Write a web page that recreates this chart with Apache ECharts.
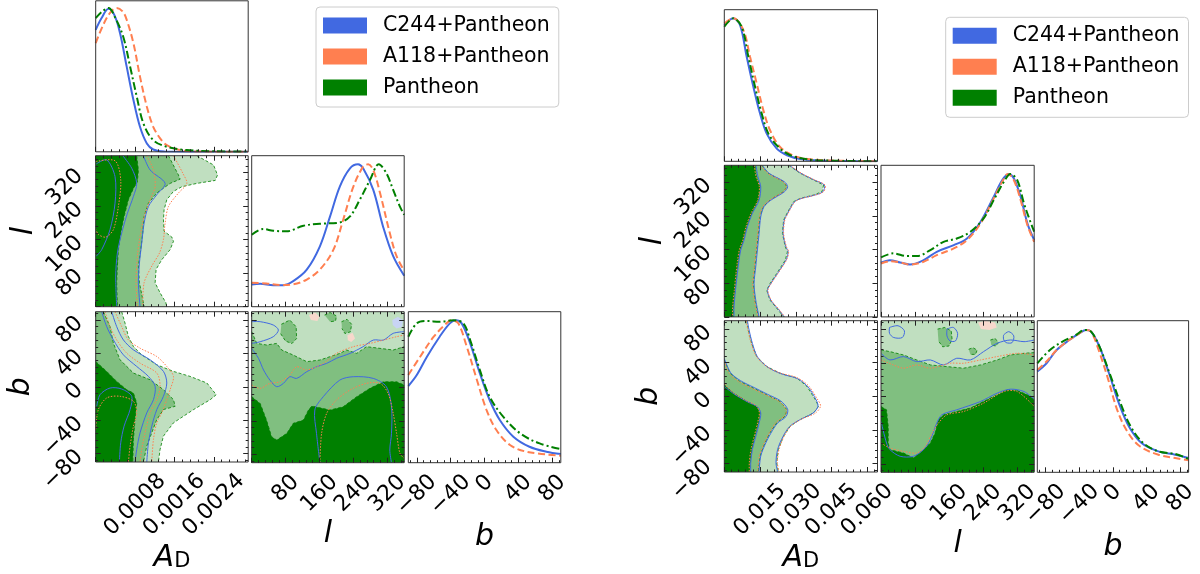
<!DOCTYPE html>
<html>
<head>
<meta charset="utf-8">
<script src="https://cdn.jsdelivr.net/npm/echarts@6/dist/echarts.min.js"></script>
<style>
html, body { margin: 0; padding: 0; background: #fff; }
#chart { width: 1200px; height: 574px; }
</style>
</head>
<body>
<div id="chart"></div>
<script>
// ---- tick values / labels ----
var adTicksL = [0.0008, 0.0016, 0.0024];
var adLabelsL = ['0.0008', '0.0016', '0.0024'];
var adTicksR = [0.015, 0.030, 0.045, 0.060];
var adLabelsR = ['0.015', '0.030', '0.045', '0.060'];
var lTicks = [80, 160, 240, 320];
var lLabels = ['80', '160', '240', '320'];
var bTicks = [-80, -40, 0, 40, 80];
var bLabels = ['\u221280', '\u221240', '0', '40', '80'];
var seriesNames = ['C244+Pantheon', 'A118+Pantheon', 'Pantheon'];

// ---- 1D marginals, left set ----
var L_ad_c244 = [[0,0.848],[0.00012,0.93],[0.00026,0.994],[0.00038,0.95],[0.000495,0.825],[0.00063,0.592],[0.000767,0.36],[0.0009,0.174],[0.00104,0.058],[0.00117,0.016],[0.0014,0.002],[0.0031,0]];
var L_ad_a118 = [[0,0.755],[0.00015,0.88],[0.0003,0.97],[0.000427,1.0],[0.00055,0.975],[0.00063,0.918],[0.000767,0.755],[0.0009,0.523],[0.00104,0.314],[0.00117,0.174],[0.00131,0.093],[0.001445,0.046],[0.00172,0.012],[0.0021,0.002],[0.0031,0]];
var L_ad_pan = [[0,0.929],[0.00013,0.975],[0.00026,1.0],[0.0004,0.93],[0.00056,0.80],[0.0007,0.592],[0.000835,0.383],[0.00097,0.197],[0.00117,0.081],[0.001445,0.035],[0.00185,0.012],[0.0024,0.004],[0.0031,0.002]];
var L_l_c244 = [[0,0.155],[20,0.159],[51,0.15],[75,0.15],[98,0.178],[130,0.258],[161,0.42],[185,0.628],[208,0.835],[232,0.962],[251,0.99],[263,0.962],[287,0.812],[310,0.558],[334,0.351],[360,0.215]];
var L_l_a118 = [[0,0.166],[35,0.162],[67,0.15],[98,0.155],[130,0.189],[161,0.258],[193,0.397],[216,0.605],[240,0.835],[263,0.974],[275,0.99],[287,0.95],[303,0.79],[326,0.512],[342,0.351],[360,0.25]];
var L_l_pan = [[0,0.5],[27,0.54],[51,0.528],[82,0.524],[122,0.563],[161,0.577],[208,0.586],[232,0.628],[255,0.743],[279,0.88],[300,0.99],[318,0.928],[334,0.812],[350,0.696],[360,0.639]];
var L_b_c244 = [[-90,0.533],[-80,0.61],[-68,0.737],[-53,0.876],[-41,0.969],[-34,0.99],[-27,0.969],[-17,0.83],[-5.5,0.621],[6,0.436],[18,0.297],[34,0.181],[53,0.111],[73,0.076],[90,0.06]];
var L_b_a118 = [[-90,0.61],[-76,0.737],[-60,0.876],[-47,0.957],[-39,0.99],[-31,0.969],[-21,0.807],[-9,0.575],[2.4,0.366],[14,0.227],[30,0.123],[50,0.076],[90,0.049]];
var L_b_pan = [[-90,0.876],[-80,0.969],[-68,0.985],[-53,0.98],[-37,0.99],[-25,0.969],[-17,0.853],[-5.5,0.644],[6,0.459],[22,0.32],[42,0.204],[65,0.134],[90,0.095]];

// ---- 1D marginals, right set ----
var R_ad_c244 = [[0,0.944],[0.0038,0.99],[0.0066,0.944],[0.0094,0.724],[0.0122,0.516],[0.015,0.331],[0.0178,0.192],[0.022,0.088],[0.0263,0.042],[0.0319,0.016],[0.0403,0.005],[0.0643,0]];
var R_ad_a118 = [[0,0.955],[0.0038,0.99],[0.008,0.909],[0.0108,0.724],[0.0136,0.539],[0.0164,0.354],[0.0192,0.215],[0.0234,0.099],[0.0291,0.039],[0.0361,0.014],[0.0459,0.005],[0.0643,0]];
var R_ad_pan = [[0,0.932],[0.0038,0.99],[0.0073,0.932],[0.0101,0.724],[0.0129,0.516],[0.0157,0.331],[0.0185,0.192],[0.0227,0.099],[0.0277,0.042],[0.0347,0.014],[0.0431,0.005],[0.0643,0]];
var R_l_c244 = [[0,0.375],[21,0.393],[45,0.377],[68,0.363],[100,0.393],[131,0.451],[171,0.497],[202,0.543],[234,0.659],[265,0.833],[285,0.948],[300,0.99],[312,0.96],[328,0.833],[344,0.648],[360,0.532]];
var R_l_a118 = [[0,0.37],[21,0.386],[45,0.377],[68,0.363],[100,0.382],[131,0.428],[171,0.474],[202,0.532],[234,0.648],[265,0.821],[285,0.937],[298,0.99],[312,0.948],[328,0.81],[344,0.636],[360,0.52]];
var R_l_pan = [[0,0.412],[29,0.44],[61,0.421],[84,0.421],[116,0.463],[147,0.52],[178,0.543],[210,0.59],[241,0.682],[265,0.81],[289,0.937],[304,0.99],[320,0.948],[336,0.786],[351,0.659],[360,0.59]];
var R_b_c244 = [[-90,0.698],[-79,0.755],[-67,0.847],[-52,0.916],[-40,0.962],[-32,0.986],[-26,0.974],[-16,0.87],[-4.7,0.686],[7,0.479],[19,0.318],[34,0.203],[54,0.145],[74,0.122],[90,0.099]];
var R_b_a118 = [[-90,0.709],[-79,0.767],[-67,0.847],[-52,0.916],[-40,0.962],[-33,0.986],[-26,0.974],[-17,0.847],[-5.5,0.64],[5,0.433],[17,0.283],[32,0.18],[54,0.122],[74,0.099],[90,0.083]];
var R_b_pan = [[-90,0.755],[-75,0.847],[-60,0.905],[-44,0.951],[-34,0.986],[-26,0.974],[-16,0.87],[-4,0.686],[9,0.479],[21,0.318],[36,0.203],[54,0.145],[74,0.127],[90,0.092]];

// ---- 2D contours, left set (Pantheon filled boundaries, others as lines) ----
var L_adl_dark = [[0.000834,360],[0.000868,326],[0.000848,298],[0.000767,282],[0.000665,255],[0.000577,215],[0.000509,176],[0.000461,136],[0.000441,97],[0.000427,57],[0.000441,0]];
var L_adl_mid = [[0.001479,360],[0.001682,314],[0.001716,304],[0.001513,294],[0.001242,271],[0.001072,247],[0.000984,215],[0.000957,176],[0.000916,136],[0.000868,97],[0.000889,57],[0.000957,17],[0.000984,0]];
var L_adl_light = [[0.002056,360],[0.002395,338],[0.002476,314],[0.002429,301],[0.002056,294],[0.00175,286],[0.001581,275],[0.001445,255],[0.00139,231],[0.001377,207],[0.00139,180],[0.001547,166],[0.001581,156],[0.001513,136],[0.001343,112],[0.001228,89],[0.001208,57],[0.001309,33],[0.001425,10],[0.001445,0]];
var L_adl_c244 = [
  [[0.000007,340],[0.000224,350],[0.000393,310],[0.000393,247],[0.000292,184],[0.000122,136],[0.000007,120]],
  [[0.00055,360],[0.000733,330],[0.000834,294],[0.000767,263],[0.000645,223],[0.000529,176],[0.000441,128],[0.000407,73],[0.000427,0]],
  [[0.00097,360],[0.001106,326],[0.001411,294],[0.001242,267],[0.001072,239],[0.000984,199],[0.000936,152],[0.000889,104],[0.000868,57],[0.000902,0]]
];
var L_adl_a118 = [
  [[0.000007,346],[0.000393,348],[0.000509,302],[0.000461,239],[0.00036,184],[0.00021,166],[0.000054,172],[0.000007,184]],
  [[0.001038,360],[0.001174,326],[0.001208,286],[0.001106,255],[0.000984,215],[0.000902,168],[0.000848,120],[0.000821,57],[0.000848,0]],
  [[0.001581,360],[0.001771,318],[0.001852,294],[0.001682,271],[0.001479,239],[0.001411,199],[0.001377,160],[0.001296,128],[0.00114,97],[0.000984,57],[0.000957,0]]
];
var L_adb_dark = [[0,30.4],[0.000224,18.5],[0.000427,6.5],[0.000631,-3.4],[0.000767,-7.4],[0.000834,-19.3],[0.0008,-39.2],[0.000767,-63],[0.000753,-90]];
var L_adb_mid = [[0.000156,90],[0.000292,72.1],[0.00036,52.2],[0.000495,32.4],[0.000767,16.5],[0.001106,8.5],[0.001377,-3.4],[0.001581,-15.3],[0.001615,-23.3],[0.001377,-27.2],[0.001242,-39.2],[0.00114,-55],[0.001038,-71],[0.00097,-90]];
var L_adb_light = [[0.000529,90],[0.000597,76.1],[0.000665,60.2],[0.000767,48.3],[0.000936,38.3],[0.001242,26.4],[0.001581,18.5],[0.00192,12.5],[0.00226,4.6],[0.00245,-9.4],[0.00233,-15.3],[0.00199,-27.2],[0.001581,-43.1],[0.001377,-59],[0.001309,-74.9],[0.001275,-90]];
var L_adb_c244 = [
  [[0.00002,-23.3],[0.000088,-9.4],[0.000292,-1.4],[0.000529,-2.6],[0.000733,-11.3],[0.000699,-27.2],[0.000577,-47.1],[0.000509,-67],[0.000482,-90]],
  [[0.000122,90],[0.000224,72.1],[0.00036,56.2],[0.000563,38.3],[0.000834,24.4],[0.001072,12.5],[0.001208,0.6],[0.001174,-15.3],[0.001038,-31.2],[0.000902,-55],[0.000834,-74.9],[0.0008,-90]],
  [[0.000326,90],[0.000427,72.1],[0.000563,56.2],[0.000767,44.3],[0.001106,32.4],[0.001377,18.5],[0.001445,4.6],[0.001377,-11.3],[0.001242,-27.2],[0.00114,-47.1],[0.001072,-67],[0.001038,-90]]
];
var L_adb_a118 = [
  [[0,-51.1],[0.000054,-27.2],[0.000224,-13.3],[0.000495,-11.3],[0.000767,-17.3],[0.000834,-31.2],[0.000767,-47.1],[0.000699,-71],[0.000665,-90]],
  [[0.00019,90],[0.000292,72.1],[0.000427,56.2],[0.000631,40.3],[0.000902,28.4],[0.001242,16.5],[0.001309,0.6],[0.001242,-15.3],[0.001106,-31.2],[0.001004,-55],[0.000936,-74.9],[0.000902,-90]],
  [[0.000393,90],[0.000529,72.1],[0.000665,56.2],[0.000902,46.3],[0.001242,36.3],[0.001445,24.4],[0.001581,12.5],[0.001513,-3.4],[0.001445,-15.3],[0.001343,-31.2],[0.001242,-43.1],[0.001174,-63],[0.00114,-90]]
];
var L_lb_mid = [[0,66.2],[12,52.2],[35,50.3],[59,52.2],[71,44.3],[98,38.3],[130,30.4],[161,32.4],[185,36.4],[208,40.3],[224,44.3],[248,40.3],[271,48.3],[303,46.3],[334,44.3],[360,48.3]];
var L_lb_dark = [[0,-11.3],[20,-19.3],[35,-39.2],[47,-59],[59,-63],[83,-55],[98,-43.1],[122,-39.2],[134,-27.2],[142,-22.5],[185,-27.2],[216,-23.3],[248,-11.3],[279,-1.4],[311,6.5],[342,6.5],[360,2.6]];
var L_lb_midPatches = [
  [[70,75],[90,80],[105,72],[106,58],[95,52],[80,55],[68,64]],
  [[172,86],[185,89],[200,85],[198,79],[185,78]],
  [[212,78],[225,81],[236,75],[233,66],[220,64],[213,70]]
];
var L_lb_pink = [[[135,86],[150,89],[160,84],[155,79],[140,80]], [[226,62],[238,65],[244,58],[235,54],[227,56]]];
var L_lb_blue = [[[332,80],[345,84],[357,80],[355,72],[342,70],[333,74]]];
var L_lb_c244 = [
  [[161,-90],[153,-55],[149,-27.2],[169,-11.3],[208,8.5],[240,12.5],[287,10.5],[318,0.6],[330,-23.3],[330,-55],[326,-74.9],[330,-90]],
  [[0,46.3],[16,34.4],[28,20.5],[43,8.5],[59,0.6],[75,4.6],[90,12.5],[106,10.5],[130,18.5],[153,24.4],[177,28.4],[200,34.4],[232,40.3],[263,48.3],[287,56.2],[311,56.2],[334,64.2],[360,66.2]],
  [[0,78.1],[20,78.1],[51,74.1],[63,68.1],[51,60.2],[20,54.2],[0,52.2]]
];
var L_lb_a118 = [
  [[161,-90],[165,-55],[177,-31.2],[200,-15.3],[232,-3.4],[271,4.6],[303,4.6],[322,-7.4],[334,-31.2],[342,-55],[350,-78.9],[360,-84.9]],
  [[0,2.6],[20,-1.4],[43,4.6],[67,6.5],[90,14.5],[106,24.4],[130,20.5],[169,28.4],[200,40.3],[240,48.3],[279,52.2],[311,56.2],[342,60.2],[360,62.2]]
];

// ---- 2D contours, right set ----
var R_adl_dark = [[0.0129,360],[0.0136,333],[0.015,309],[0.0143,277.5],[0.0115,245.8],[0.0094,214],[0.008,182.4],[0.0066,158.6],[0.0059,134.8],[0.0052,103],[0.0045,63.4],[0.0038,23.8],[0.0038,0]];
var R_adl_mid = [[0.0157,360],[0.0185,341],[0.0249,321],[0.0263,309],[0.0249,297.4],[0.0192,277.5],[0.0164,261.7],[0.015,238],[0.0143,198],[0.0136,158.6],[0.0129,119],[0.0122,79.3],[0.0129,39.7],[0.0143,0]];
var R_adl_light = [[0.027,360],[0.0319,341],[0.0375,325],[0.0417,313],[0.041,297.4],[0.0375,289.4],[0.0319,281.5],[0.0291,273.6],[0.0263,245.8],[0.0249,230],[0.0244,198],[0.0256,166.5],[0.0265,154.6],[0.0256,134.8],[0.022,103],[0.0192,79.3],[0.0178,63.4],[0.0192,39.7],[0.0227,15.9],[0.0249,0]];
var R_adl_c244 = [
  [[0.0133,360],[0.0141,333],[0.0153,309],[0.0146,277],[0.0118,246],[0.0097,214],[0.0083,182],[0.0069,159],[0.0062,135],[0.0055,103],[0.0047,63],[0.0041,24],[0.0041,0]],
  [[0.016,360],[0.0188,341],[0.0252,321],[0.0266,309],[0.0252,297],[0.0195,277],[0.0167,262],[0.0153,238],[0.0146,198],[0.0139,159],[0.0132,119],[0.0125,79],[0.0132,40],[0.0146,0]],
  [[0.0273,360],[0.0322,341],[0.0378,325],[0.042,313],[0.0413,297],[0.0378,289],[0.0322,281],[0.0294,273],[0.0266,246],[0.0252,230],[0.0247,198],[0.0259,166],[0.0268,155],[0.0259,135],[0.0223,103],[0.0195,79],[0.0181,63],[0.0195,40],[0.023,16],[0.0252,0]]
];
var R_adl_a118 = [
  [[0.0126,360],[0.0133,333],[0.0147,309],[0.014,277],[0.0112,246],[0.0091,214],[0.0077,182],[0.0063,159],[0.0056,135],[0.0049,103],[0.0042,63],[0.0035,24],[0.0035,0]],
  [[0.0154,360],[0.0182,341],[0.0246,321],[0.026,309],[0.0246,297],[0.0189,277],[0.0161,262],[0.0147,238],[0.014,198],[0.0133,159],[0.0126,119],[0.0119,79],[0.0126,40],[0.014,0]],
  [[0.0275,360],[0.0324,341],[0.038,325],[0.0423,313],[0.0416,297],[0.038,289],[0.0324,281],[0.0296,273],[0.0268,246],[0.0254,230],[0.0249,198],[0.0261,166],[0.027,155],[0.0261,135],[0.0225,103],[0.0197,79],[0.0183,63],[0.0197,40],[0.0232,16],[0.0254,0]]
];
var R_adb_dark = [[0,13.8],[0.0038,4],[0.0094,-5.9],[0.0136,-11.8],[0.015,-19.7],[0.0143,-31.6],[0.0129,-47.4],[0.0115,-63.1],[0.0108,-78.9],[0.0108,-90]];
var R_adb_mid = [[0,43.4],[0.0024,27.6],[0.0066,17.8],[0.0122,9.9],[0.0178,2],[0.0234,-5.9],[0.0263,-15.8],[0.0256,-23.7],[0.022,-31.6],[0.0192,-43.4],[0.0171,-55.2],[0.015,-71],[0.0143,-90]];
var R_adb_light = [[0.0094,90],[0.0101,79],[0.0115,63.2],[0.0136,47.4],[0.0178,35.5],[0.0234,27.6],[0.0305,21.7],[0.0347,11.9],[0.0382,-3.9],[0.0396,-11.8],[0.0375,-19.7],[0.0319,-27.6],[0.0277,-35.5],[0.0249,-47.4],[0.0227,-63.1],[0.022,-78.9],[0.0227,-90]];
var R_adb_c244 = [
  [[0,12],[0.004,3],[0.0097,-6.5],[0.0139,-12.5],[0.0153,-20],[0.0146,-32],[0.0132,-48],[0.0118,-63],[0.0111,-79],[0.0111,-90]],
  [[0,45],[0.0027,28],[0.0069,18.5],[0.0125,10.5],[0.0181,2.5],[0.0237,-5.5],[0.0266,-15.5],[0.0259,-24],[0.0223,-32],[0.0195,-44],[0.0174,-55.5],[0.0153,-71],[0.0146,-90]],
  [[0.0097,90],[0.0104,79],[0.0118,63],[0.0139,47],[0.0181,35],[0.0237,27],[0.0308,21],[0.0352,11],[0.0385,-4],[0.0393,-12],[0.0372,-20],[0.0316,-28],[0.0274,-36],[0.0246,-48],[0.0224,-63],[0.0217,-79],[0.0224,-90]]
];
var R_adb_a118 = [
  [[0,15],[0.0035,5],[0.0091,-5],[0.0133,-11],[0.0147,-19],[0.014,-31],[0.0126,-47],[0.0112,-63],[0.0105,-79],[0.0105,-90]],
  [[0,42],[0.0021,27],[0.0063,17],[0.0119,9],[0.0175,1.5],[0.0231,-6.5],[0.026,-16.5],[0.0253,-23],[0.0217,-31],[0.0189,-43],[0.0168,-55],[0.0147,-71],[0.014,-90]],
  [[0.0092,90],[0.0099,79],[0.0113,63],[0.0134,48],[0.0176,36],[0.0232,28],[0.0303,22.5],[0.0352,13],[0.039,-3],[0.0404,-11.5],[0.0382,-20],[0.0325,-27],[0.028,-35],[0.0252,-47],[0.023,-63],[0.0223,-79],[0.023,-90]]
];
var R_lb_mid = [[0,55.3],[21,53.3],[53,49.3],[84,43.4],[116,37.5],[155,35.5],[194,33.6],[234,37.5],[273,43.4],[304,49.3],[336,51.3],[360,52.1]];
var R_lb_dark = [[0,-11.8],[13,-15.8],[17,-35.5],[17,-55.2],[21,-63.1],[53,-67.1],[76,-73],[100,-63.1],[116,-55.2],[127,-43.4],[135,-27.6],[147,-21.7],[178,-17.8],[210,-13.8],[241,-5.9],[273,2],[296,7.9],[320,7.1],[344,2],[360,-3.9]];
var R_lb_midPatches = [
  [[133,80],[150,82],[165,78],[167,68],[160,60],[145,59],[135,66]],
  [[206,56],[216,58],[226,55],[222,50],[210,50]],
  [[257,67],[268,69],[276,64],[270,60],[259,61]]
];
var R_lb_pink = [[[228,88],[245,90],[268,88],[272,82],[255,79],[235,80]]];
var R_lb_c244 = [
  [[0,-29.6],[13,-55.2],[21,-63.1],[45,-71],[76,-71],[100,-63.1],[116,-51.3],[131,-31.6],[143,-21.7],[178,-15.8],[234,-5.9],[273,4],[304,8.7],[336,5.9],[360,-3.1]],
  [[0,51.3],[21,43.4],[53,47.4],[84,41.4],[116,43.4],[147,37.5],[178,45.4],[210,43.4],[241,53.3],[273,63.2],[304,67.1],[336,65.1],[360,67.1]],
  [[20,82],[40,84],[55,78],[50,70],[30,70],[20,75],[20,82]],
  [[155,80],[170,82],[180,75],[175,66],[162,66],[155,72],[155,80]],
  [[288,73],[300,77],[312,72],[308,64],[294,64],[288,68],[288,73]]
];
var R_lb_a118 = [
  [[0,-55.2],[21,-61.2],[53,-65.1],[84,-67.1],[104,-59.2],[120,-43.4],[135,-31.6],[155,-21.7],[194,-17.8],[241,-7.9],[289,5.9],[320,5.9],[360,-11.8]],
  [[0,43.4],[29,37.5],[53,33.6],[84,37.5],[116,33.6],[163,39.5],[194,39.5],[234,43.4],[273,47.4],[320,51.3],[360,49.3]]
];

// ---- drawing ----
var FONT = 'DejaVu Sans';
var TICK_FS = 22;
var cBlue = '#4169e1', cCoral = '#ff7f50', cGreen = '#008000';
var gLight = '#c0dfc0', gMid = '#80bf80', gDark = '#008000';

var grids = [], xAxes = [], yAxes = [], series = [];
var ctx = document.createElement('canvas').getContext('2d');
ctx.font = TICK_FS + 'px "' + FONT + '"';

function minors(min, max, step) {
  var out = [];
  for (var k = Math.ceil(min / step); k * step <= max + 1e-12; k++) {
    if (k % 5 !== 0) out.push(+(k * step).toPrecision(6));
  }
  return out;
}
function nearest(vals, v) {
  var best = 0;
  for (var i = 1; i < vals.length; i++) if (Math.abs(vals[i] - v) < Math.abs(vals[best] - v)) best = i;
  return best;
}
// rotated labels centred under the tick, like matplotlib
function bottomLabels(vals, texts) {
  var rich = {};
  texts.forEach(function (t, i) {
    var p = Math.round(ctx.measureText(t).width / 2);
    rich['t' + i] = { fontSize: TICK_FS, fontFamily: FONT, color: '#000', padding: [p, p, 0, 0] };
  });
  return {
    show: true, customValues: vals, rotate: 45, align: 'center', verticalAlign: 'middle', margin: 16,
    fontSize: TICK_FS, fontFamily: FONT, color: '#000',
    formatter: function (v) { var i = nearest(vals, v); return '{t' + i + '|' + texts[i] + '}'; },
    rich: rich
  };
}
function leftLabels(vals, texts) {
  return {
    show: true, customValues: vals, rotate: 45, margin: 16, fontSize: TICK_FS, fontFamily: FONT, color: '#000',
    formatter: function (v) { return texts[nearest(vals, v)]; }
  };
}
function axisName(txt, gap) {
  if (txt === 'AD') {
    return { name: '{a|A}{d|D}', nameLocation: 'middle', nameGap: gap,
      nameTextStyle: { rich: {
        a: { fontSize: 30, fontStyle: 'italic', fontFamily: FONT, color: '#000', padding: [0, 0, 8, 0] },
        d: { fontSize: 21, fontFamily: FONT, color: '#000' } } } };
  }
  return { name: txt, nameLocation: 'middle', nameGap: gap,
    nameTextStyle: { fontSize: 30, fontStyle: 'italic', fontFamily: FONT, color: '#000' } };
}
function axis(gi, pos, s, ticks, len, label, nm) {
  var a = {
    type: 'value', gridIndex: gi, position: pos, min: s.min, max: s.max, z: 10, silent: true,
    axisLine: { show: false, onZero: false }, splitLine: { show: false },
    axisTick: { show: true, inside: true, length: len, customValues: ticks, lineStyle: { color: '#222', width: 1 } },
    axisLabel: label || { show: false }
  };
  if (nm) Object.assign(a, nm);
  return a;
}
function scale(min, max, major, step) { return { min: min, max: max, major: major, minor: minors(min, max, step) }; }

function panel(left, top, w, h, xs, ys, xlab, ylab, xname, yname) {
  var gi = grids.length;
  grids.push({ left: left, top: top, width: w, height: h, show: true, borderColor: '#333', borderWidth: 1, z: 10, backgroundColor: 'rgba(0,0,0,0)' });
  var xi = xAxes.length;
  xAxes.push(axis(gi, 'bottom', xs, xs.major, 5, xlab, xname));
  xAxes.push(axis(gi, 'bottom', xs, xs.minor, 2.5));
  var yi = yAxes.length;
  if (ys) {
    xAxes.push(axis(gi, 'top', xs, xs.major, 5));
    xAxes.push(axis(gi, 'top', xs, xs.minor, 2.5));
    yAxes.push(axis(gi, 'left', ys, ys.major, 5, ylab, yname));
    yAxes.push(axis(gi, 'left', ys, ys.minor, 2.5));
    yAxes.push(axis(gi, 'right', ys, ys.major, 5));
    yAxes.push(axis(gi, 'right', ys, ys.minor, 2.5));
  } else {
    yAxes.push({ type: 'value', gridIndex: gi, min: 0, max: 1.05, show: false, axisLine: { onZero: false } });
  }
  return { xi: xi, yi: yi };
}

function curve(ax, name, data, color, type) {
  series.push({ type: 'line', name: name, xAxisIndex: ax.xi, yAxisIndex: ax.yi, data: data,
    smooth: 0.35, showSymbol: false, silent: true, z: 5, clip: true,
    itemStyle: { color: color }, lineStyle: { color: color, width: 2, type: type } });
}
function marginals(ax, c, a, p) {
  curve(ax, seriesNames[0], c, cBlue, 'solid');
  curve(ax, seriesNames[1], a, cCoral, [7, 3.5]);
  curve(ax, seriesNames[2], p, cGreen, [8, 3, 2, 3]);
}
// filled region: edge (contour) + closing corners of the panel
function region(ax, edge, close, color, z, outline) {
  var poly = edge.concat(close);
  series.push({ type: 'custom', xAxisIndex: ax.xi, yAxisIndex: ax.yi, clip: true, silent: true, z: z, data: poly,
    renderItem: function (params, api) {
      if (params.dataIndex !== 0) return;
      var pts = poly.map(function (d) { return api.coord(d); });
      var kids = [{ type: 'polygon', shape: { points: pts }, style: { fill: color } }];
      if (outline) kids.push({ type: 'polyline', shape: { points: pts.slice(0, edge.length) },
        style: { fill: 'none', stroke: gDark, lineWidth: 0.8, lineDash: [3, 2] } });
      return { type: 'group', children: kids };
    } });
}
function contour(ax, pts, color, dash) {
  series.push({ type: 'custom', xAxisIndex: ax.xi, yAxisIndex: ax.yi, clip: true, silent: true, z: 6, data: pts,
    renderItem: function (params, api) {
      if (params.dataIndex !== 0) return;
      return { type: 'polyline', shape: { points: pts.map(function (d) { return api.coord(d); }), smooth: 0.3 },
        style: { fill: 'none', stroke: color, lineWidth: 1, lineDash: dash } };
    } });
}

// ---- layout of the two corner plots ----
var adL = scale(0, 0.0031, [0, 0.0008, 0.0016, 0.0024], 0.00016);
var adR = scale(0, 0.0643, [0, 0.015, 0.030, 0.045, 0.060], 0.003);
var lS = scale(0, 360, [0, 80, 160, 240, 320], 16);
var bS = scale(-90, 90, bTicks, 8);

function corner(cols, rows, w, h, ad, adT, adLab, adGap, g) {
  var p = {};
  p.d0 = panel(cols[0], rows[0], w, h, ad, null);
  p.al = panel(cols[0], rows[1], w, h, ad, lS, null, leftLabels(lTicks, lLabels), null, axisName('l', g[0]));
  p.ab = panel(cols[0], rows[2], w, h, ad, bS, bottomLabels(adT, adLab), leftLabels(bTicks, bLabels), axisName('AD', adGap), axisName('b', g[1]));
  p.d1 = panel(cols[1], rows[1], w, h, lS, null);
  p.lb = panel(cols[1], rows[2], w, h, lS, bS, bottomLabels(lTicks, lLabels), null, axisName('l', g[2]));
  p.d2 = panel(cols[2], rows[2], w, h, bS, null, bottomLabels(bTicks, bLabels), null, axisName('b', g[3]));
  return p;
}
var PL = corner([95.7, 251.7, 408.3], [0.8, 155.7, 311.7], 152.5, 151, adL, adTicksL, adLabelsL, 81, [52, 57, 41, 42]);
var PR = corner([724.3, 881, 1037.3], [9.7, 165.3, 320.7], 153.2, 151.6, adR, adTicksR, adLabelsR, 71, [51, 56, 47, 47]);

function fillSet(ax, dark, mid, light, closeD, closeM, closeL) {
  region(ax, light, closeL, gLight, 2, true);
  region(ax, mid, closeM, gMid, 3, true);
  region(ax, dark, closeD, gDark, 4, true);
}
function lines(ax, c, a) {
  c.forEach(function (p) { contour(ax, p, cBlue, null); });
  a.forEach(function (p) { contour(ax, p, cCoral, [1.5, 1.5]); });
}

// left corner plot
marginals(PL.d0, L_ad_c244, L_ad_a118, L_ad_pan);
marginals(PL.d1, L_l_c244, L_l_a118, L_l_pan);
marginals(PL.d2, L_b_c244, L_b_a118, L_b_pan);
fillSet(PL.al, L_adl_dark, L_adl_mid, L_adl_light, [[0, 0], [0, 360]], [[0, 0], [0, 360]], [[0, 0], [0, 360]]);
lines(PL.al, L_adl_c244, L_adl_a118);
fillSet(PL.ab, L_adb_dark, L_adb_mid, L_adb_light, [[0, -90]], [[0, -90], [0, 90]], [[0, -90], [0, 90]]);
lines(PL.ab, L_adb_c244, L_adb_a118);
region(PL.lb, [], [[0, -90], [360, -90], [360, 90], [0, 90]], gLight, 2, false);
L_lb_pink.forEach(function (p) { region(PL.lb, p, [], '#f8d8cc', 2.5, false); });
L_lb_blue.forEach(function (p) { region(PL.lb, p, [], '#c8d4f4', 2.5, false); });
L_lb_midPatches.forEach(function (p) { region(PL.lb, p, [], gMid, 3, true); });
region(PL.lb, L_lb_mid, [[360, -90], [0, -90]], gMid, 3, true);
region(PL.lb, L_lb_dark, [[360, -90], [0, -90]], gDark, 4, true);
lines(PL.lb, L_lb_c244, L_lb_a118);

// right corner plot
marginals(PR.d0, R_ad_c244, R_ad_a118, R_ad_pan);
marginals(PR.d1, R_l_c244, R_l_a118, R_l_pan);
marginals(PR.d2, R_b_c244, R_b_a118, R_b_pan);
fillSet(PR.al, R_adl_dark, R_adl_mid, R_adl_light, [[0, 0], [0, 360]], [[0, 0], [0, 360]], [[0, 0], [0, 360]]);
lines(PR.al, R_adl_c244, R_adl_a118);
fillSet(PR.ab, R_adb_dark, R_adb_mid, R_adb_light, [[0, -90]], [[0, -90]], [[0, -90], [0, 90]]);
lines(PR.ab, R_adb_c244, R_adb_a118);
region(PR.lb, [], [[0, -90], [360, -90], [360, 90], [0, 90]], gLight, 2, false);
R_lb_pink.forEach(function (p) { region(PR.lb, p, [], '#f8d8cc', 2.5, false); });
R_lb_midPatches.forEach(function (p) { region(PR.lb, p, [], gMid, 3, true); });
region(PR.lb, R_lb_mid, [[360, -90], [0, -90]], gMid, 3, true);
region(PR.lb, R_lb_dark, [[360, -90], [0, -90]], gDark, 4, true);
lines(PR.lb, R_lb_c244, R_lb_a118);

function legendAt(left, top) {
  return {
    orient: 'vertical', left: left, top: top, selectedMode: false,
    itemWidth: 44, itemHeight: 16, itemGap: 10, icon: 'rect',
    padding: [8, 9, 9, 7], borderColor: '#cccccc', borderWidth: 1, borderRadius: 4, backgroundColor: '#fff',
    textStyle: { fontSize: 20.5, fontFamily: FONT, color: '#000', padding: [0, 0, 0, 11] },
    itemStyle: { borderWidth: 0 },
    data: [
      { name: seriesNames[0], itemStyle: { color: cBlue } },
      { name: seriesNames[1], itemStyle: { color: cCoral } },
      { name: seriesNames[2], itemStyle: { color: cGreen } }
    ]
  };
}

var chart = echarts.init(document.getElementById('chart'));
chart.setOption({
  animation: false,
  backgroundColor: '#fff',
  legend: [legendAt(316, 7), legendAt(945.7, 17.3)],
  grid: grids,
  xAxis: xAxes,
  yAxis: yAxes,
  series: series
});
</script>
</body>
</html>
